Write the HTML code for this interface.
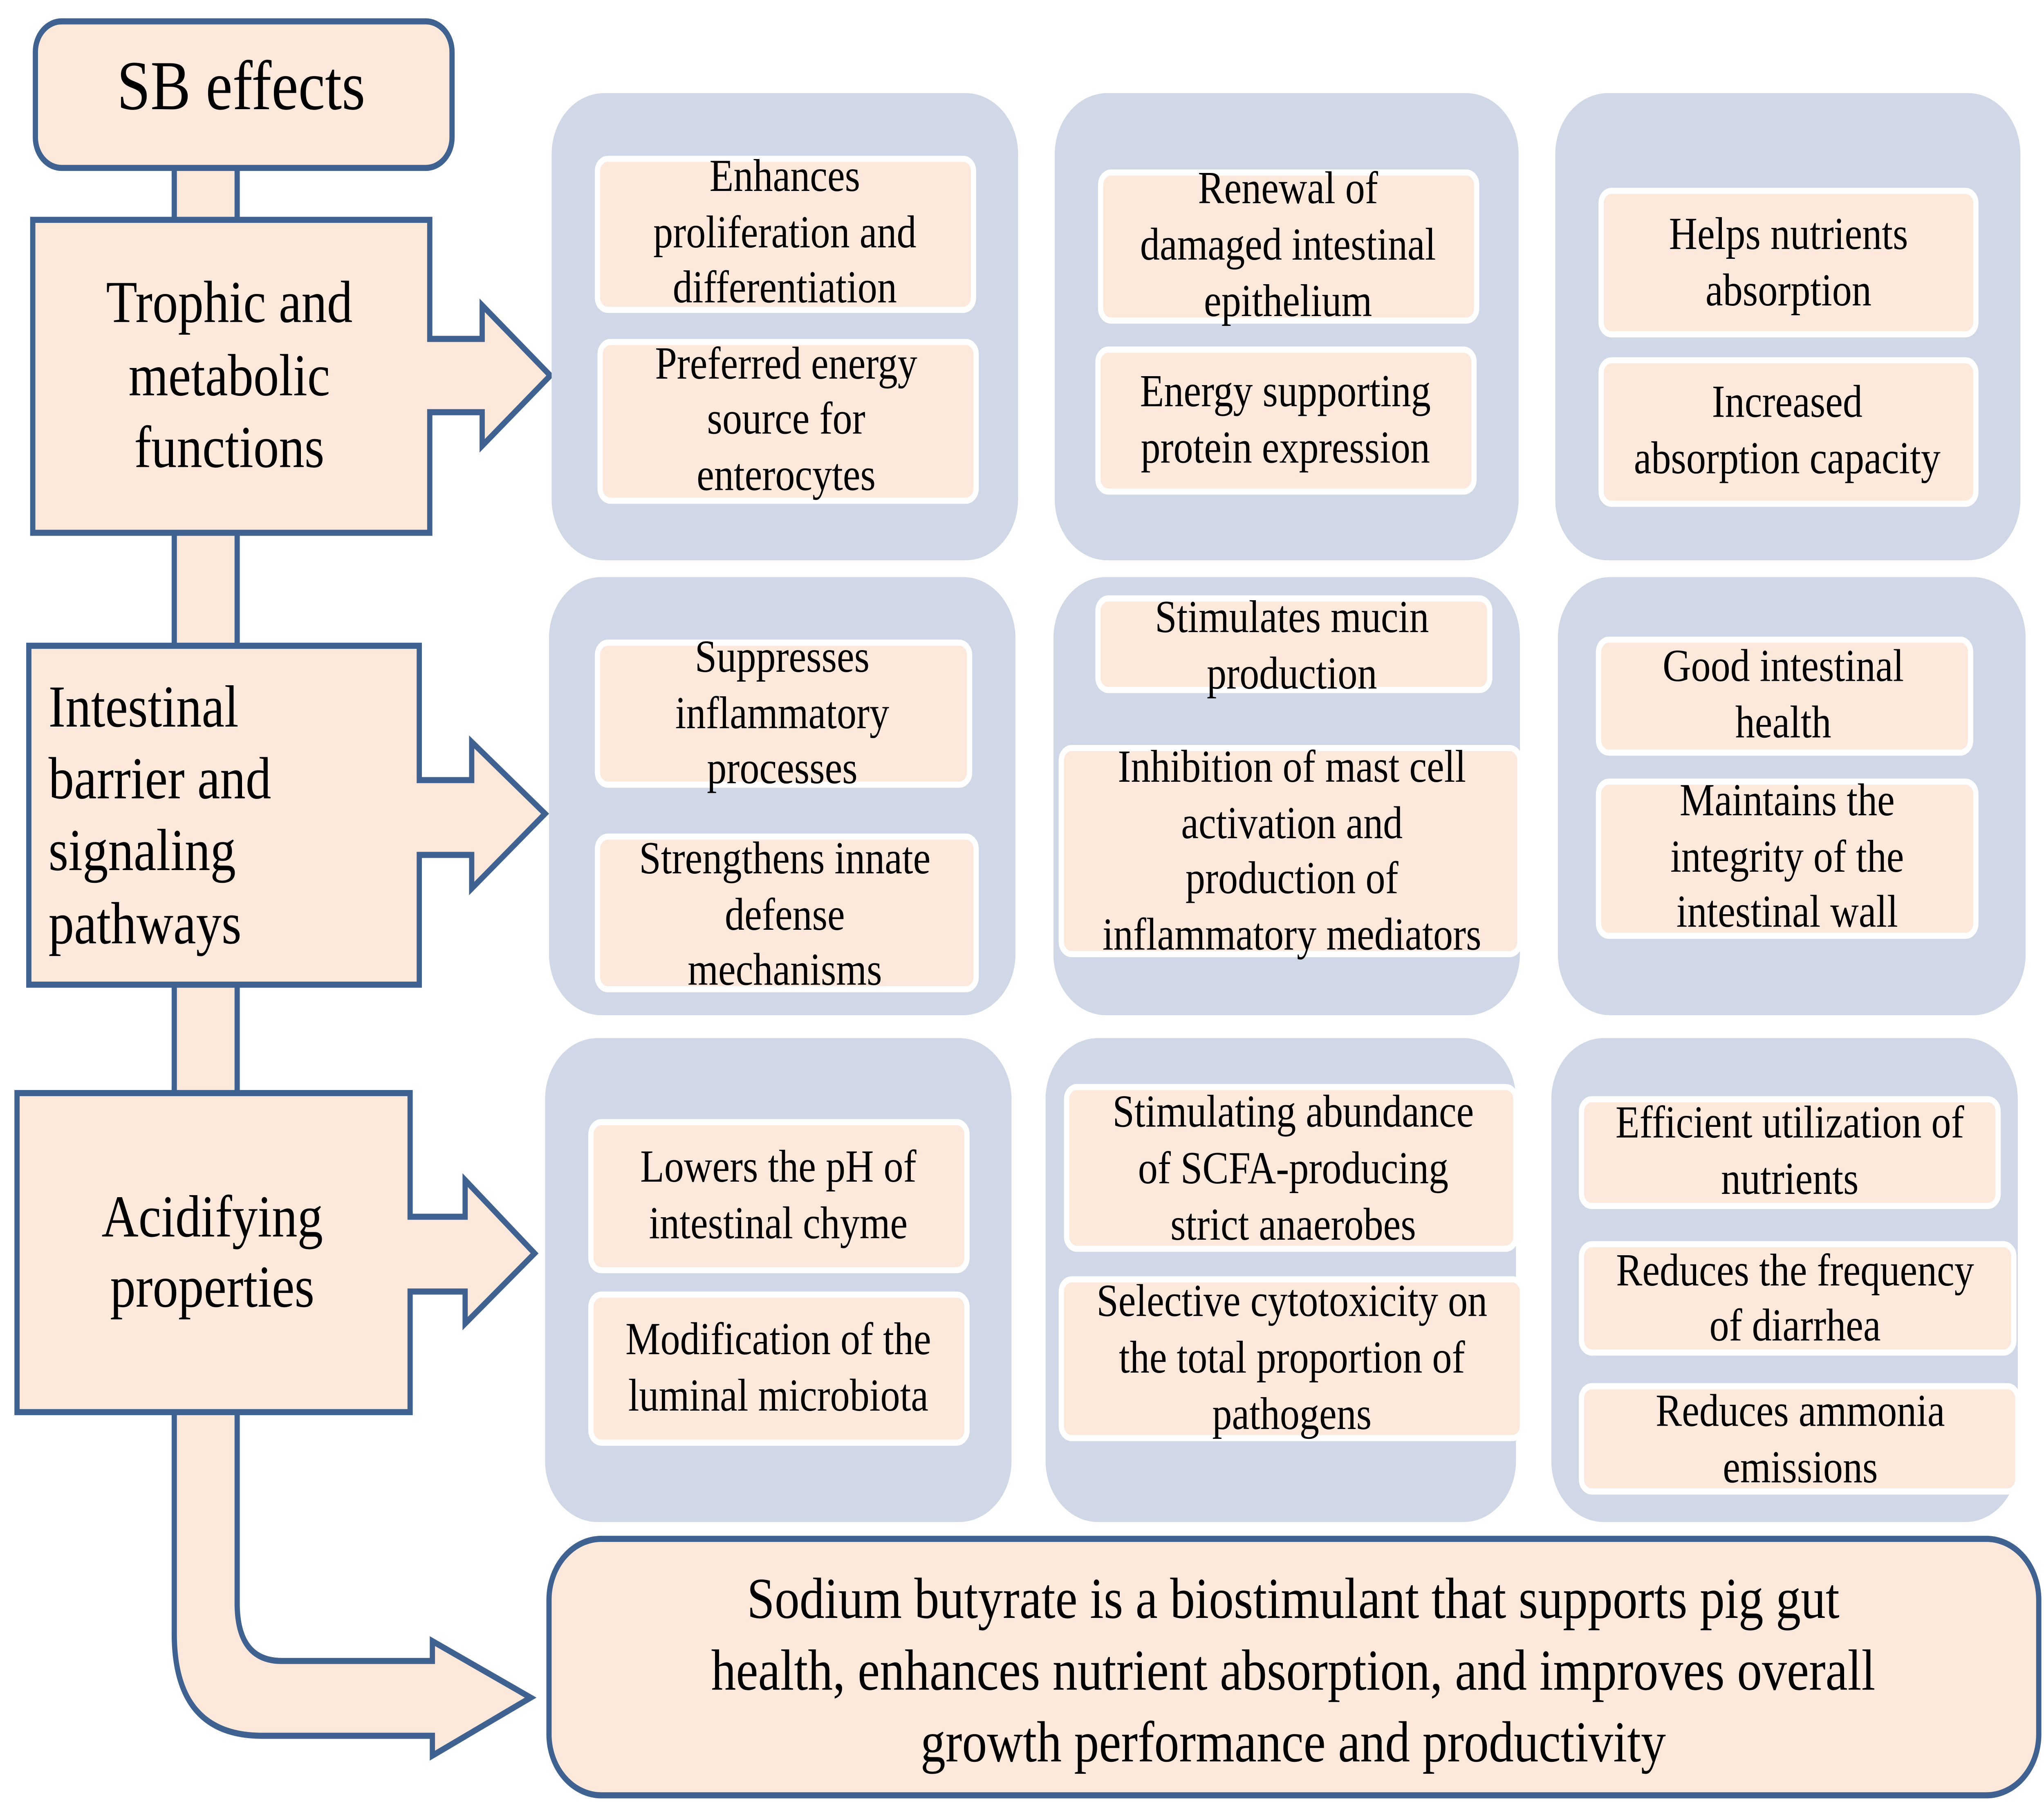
<!DOCTYPE html>
<html><head><meta charset="utf-8"><style>
html,body{margin:0;padding:0;background:#fff;width:100%;height:100%;overflow:hidden}
svg{display:block;width:100vw;height:100vh}
text{font-family:"Liberation Serif",serif;fill:#000;dominant-baseline:central;text-anchor:middle}
.s{font-size:30px}
.m{font-size:39px}
.g{fill:#d0d7e6}
.b{fill:#fde9db;stroke:#fff;stroke-width:4}
.k{fill:#fde9db;stroke:#3f6291;stroke-width:4;stroke-linejoin:miter}
</style></head><body>
<svg viewBox="0 0 1560 1183" preserveAspectRatio="none" xmlns="http://www.w3.org/2000/svg">
<path class="k" d="M133,100 V1070 Q133,1137 200,1137 H330 V1150 L405,1112 L330,1075 V1088 H215 Q181,1088 181,1050 V100 Z"/>
<rect class="k" x="27" y="14" width="318" height="96" rx="20"/>
<text x="184" y="56" style="font-size:46px">SB effects</text>
<path class="k" d="M25,144 H328 V222 H368 V200 L420,246 L368,292 V270 H328 V349 H25 Z"/>
<text class="m" x="175" y="198">Trophic and</text>
<text class="m" x="175" y="246">metabolic</text>
<text class="m" x="175" y="293">functions</text>
<path class="k" d="M22,423 H320 V511 H360 V486 L416,533 L360,582 V560 H320 V645 H22 Z"/>
<text class="m" x="37" y="463" style="text-anchor:start">Intestinal</text>
<text class="m" x="37" y="510" style="text-anchor:start">barrier and</text>
<text class="m" x="37" y="557" style="text-anchor:start">signaling</text>
<text class="m" x="37" y="605" style="text-anchor:start">pathways</text>
<path class="k" d="M13,716 H313 V797 H355 V773 L408,821 L355,867 V846 H313 V925 H13 Z"/>
<text class="m" x="162" y="797">Acidifying</text>
<text class="m" x="162" y="843">properties</text>
<rect class="g" x="421" y="61" width="356" height="306" rx="40"/>
<rect class="g" x="805" y="61" width="354" height="306" rx="40"/>
<rect class="g" x="1187" y="61" width="355" height="306" rx="40"/>
<rect class="g" x="419" y="378" width="356" height="287" rx="40"/>
<rect class="g" x="804" y="378" width="356" height="287" rx="40"/>
<rect class="g" x="1189" y="378" width="357" height="287" rx="40"/>
<rect class="g" x="416" y="680" width="356" height="317" rx="40"/>
<rect class="g" x="798" y="680" width="359" height="317" rx="40"/>
<rect class="g" x="1184" y="680" width="356" height="317" rx="40"/>
<rect class="b" x="456" y="104" width="287" height="99" rx="8"/>
<text class="s" x="599" y="115">Enhances</text><text class="s" x="599" y="152">proliferation and</text><text class="s" x="599" y="188">differentiation</text>
<rect class="b" x="458" y="224" width="287" height="104" rx="8"/>
<text class="s" x="600" y="238">Preferred energy</text><text class="s" x="600" y="274">source for</text><text class="s" x="600" y="311">enterocytes</text>
<rect class="b" x="840" y="113" width="287" height="97" rx="8"/>
<text class="s" x="983" y="123">Renewal of</text><text class="s" x="983" y="160">damaged intestinal</text><text class="s" x="983" y="197">epithelium</text>
<rect class="b" x="838" y="229" width="287" height="93" rx="8"/>
<text class="s" x="981" y="256">Energy supporting</text><text class="s" x="981" y="293">protein expression</text>
<rect class="b" x="1222" y="125" width="286" height="94" rx="8"/>
<text class="s" x="1365" y="153">Helps nutrients</text><text class="s" x="1365" y="190">absorption</text>
<rect class="b" x="1222" y="236" width="286" height="94" rx="8"/>
<text class="s" x="1364" y="263">Increased</text><text class="s" x="1364" y="300">absorption capacity</text>
<rect class="b" x="456" y="421" width="284" height="93" rx="8"/>
<text class="s" x="597" y="430">Suppresses</text><text class="s" x="597" y="467">inflammatory</text><text class="s" x="597" y="503">processes</text>
<rect class="b" x="456" y="548" width="289" height="100" rx="8"/>
<text class="s" x="599" y="562">Strengthens innate</text><text class="s" x="599" y="599">defense</text><text class="s" x="599" y="635">mechanisms</text>
<rect class="b" x="838" y="392" width="299" height="60" rx="8"/>
<text class="s" x="986" y="404">Stimulates mucin</text><text class="s" x="986" y="441">production</text>
<rect class="b" x="810" y="490" width="350" height="135" rx="8"/>
<text class="s" x="986" y="502">Inhibition of mast cell</text><text class="s" x="986" y="539">activation and</text><text class="s" x="986" y="575">production of</text><text class="s" x="986" y="612">inflammatory mediators</text>
<rect class="b" x="1220" y="419" width="284" height="74" rx="8"/>
<text class="s" x="1361" y="436">Good intestinal</text><text class="s" x="1361" y="473">health</text>
<rect class="b" x="1220" y="512" width="288" height="101" rx="8"/>
<text class="s" x="1364" y="524">Maintains the</text><text class="s" x="1364" y="561">integrity of the</text><text class="s" x="1364" y="597">intestinal wall</text>
<rect class="b" x="451" y="735" width="287" height="97" rx="8"/>
<text class="s" x="594" y="764">Lowers the pH of</text><text class="s" x="594" y="801">intestinal chyme</text>
<rect class="b" x="451" y="848" width="287" height="97" rx="8"/>
<text class="s" x="594" y="877">Modification of the</text><text class="s" x="594" y="914">luminal microbiota</text>
<rect class="b" x="814" y="712" width="343" height="106" rx="8"/>
<text class="s" x="987" y="728">Stimulating abundance</text><text class="s" x="987" y="765">of SCFA-producing</text><text class="s" x="987" y="802">strict anaerobes</text>
<rect class="b" x="810" y="838" width="352" height="104" rx="8"/>
<text class="s" x="986" y="852">Selective cytotoxicity on</text><text class="s" x="986" y="889">the total proportion of</text><text class="s" x="986" y="926">pathogens</text>
<rect class="b" x="1207" y="720" width="318" height="70" rx="8"/>
<text class="s" x="1366" y="735">Efficient utilization of</text><text class="s" x="1366" y="772">nutrients</text>
<rect class="b" x="1207" y="815" width="330" height="71" rx="8"/>
<text class="s" x="1370" y="832">Reduces the frequency</text><text class="s" x="1370" y="868">of diarrhea</text>
<rect class="b" x="1207" y="908" width="333" height="69" rx="8"/>
<text class="s" x="1374" y="924">Reduces ammonia</text><text class="s" x="1374" y="961">emissions</text>
<rect class="k" x="419" y="1008" width="1137" height="168" rx="40"/>
<text x="987" y="1047" style="font-size:38px">Sodium butyrate is a biostimulant that supports pig gut</text>
<text x="987" y="1094" style="font-size:38px">health, enhances nutrient absorption, and improves overall</text>
<text x="987" y="1141" style="font-size:38px">growth performance and productivity</text>
</svg>
</body></html>
